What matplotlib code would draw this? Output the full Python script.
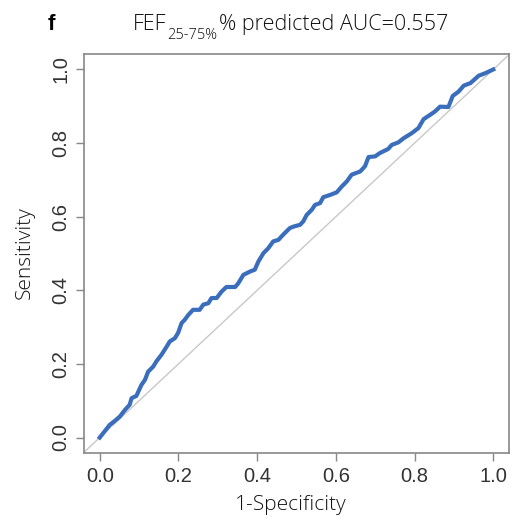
import matplotlib
matplotlib.use("Agg")
from matplotlib import pyplot as plt

# ROC curve points
fpr = [0.0, 0.025, 0.038, 0.051, 0.064, 0.076, 0.081, 0.093, 0.106, 0.115, 0.123, 0.136,
       0.144, 0.157, 0.170, 0.178, 0.191, 0.199, 0.208, 0.216, 0.225, 0.237, 0.254, 0.263,
       0.276, 0.284, 0.297, 0.310, 0.322, 0.344, 0.352, 0.365, 0.382, 0.394, 0.403, 0.416,
       0.428, 0.441, 0.454, 0.466, 0.483, 0.492, 0.509, 0.517, 0.526, 0.539, 0.547, 0.560,
       0.568, 0.585, 0.602, 0.615, 0.628, 0.640, 0.662, 0.674, 0.683, 0.700, 0.712, 0.733,
       0.742, 0.759, 0.772, 0.793, 0.810, 0.823, 0.840, 0.852, 0.865, 0.886, 0.897, 0.912,
       0.925, 0.942, 0.963, 0.980, 1.0]
tpr = [0.0, 0.034, 0.045, 0.057, 0.075, 0.089, 0.107, 0.113, 0.143, 0.157, 0.179, 0.193,
       0.207, 0.225, 0.247, 0.261, 0.270, 0.284, 0.311, 0.320, 0.333, 0.347, 0.347, 0.361,
       0.365, 0.379, 0.379, 0.397, 0.409, 0.409, 0.419, 0.442, 0.451, 0.456, 0.478, 0.501,
       0.514, 0.533, 0.537, 0.551, 0.569, 0.573, 0.578, 0.587, 0.605, 0.619, 0.632, 0.637,
       0.653, 0.659, 0.666, 0.682, 0.696, 0.714, 0.723, 0.737, 0.762, 0.764, 0.773, 0.784,
       0.795, 0.802, 0.813, 0.827, 0.841, 0.865, 0.877, 0.886, 0.899, 0.898, 0.928, 0.940,
       0.956, 0.963, 0.983, 0.990, 1.0]
ticks = [0.0, 0.2, 0.4, 0.6, 0.8, 1.0]
tick_labels = ["0.0", "0.2", "0.4", "0.6", "0.8", "1.0"]
auc = 0.557

txt_col = '#111111'

fig = plt.figure(figsize=(5.13, 5.2), dpi=100)
ax = fig.add_axes([84/513, 1-453/520, 425/513, 399/520])

ax.axline((0, 0), (1, 1), color='#c8c8c8', lw=1.0, zorder=1)
ax.plot(fpr, tpr, color='#3a6ebd', lw=3.0, solid_joinstyle='round', zorder=2)

ax.set_xlim(-0.04, 1.04)
ax.set_ylim(-0.042, 1.042)
ax.set_xticks(ticks)
ax.set_yticks(ticks)
ax.set_xticklabels(tick_labels, family='Liberation Sans', fontsize=14.5, color='#333333')
ax.set_yticklabels(tick_labels, family='Liberation Sans', fontsize=14.5, color='#333333',
                   rotation=90, va='center')
ax.tick_params(length=6, width=1, color='#888888', pad=4)
for s in ax.spines.values():
    s.set_color('#888888')
    s.set_linewidth(1.2)

fig.text(291/513, 1-505/520, '1-Specificity', family='Open Sans', fontweight='light',
         fontsize=15, ha='center', va='center', color=txt_col)
fig.text(25/513, 1-253/520, 'Sensitivity', family='Open Sans', fontweight='light',
         fontsize=15, ha='center', va='center', rotation=90, color=txt_col)

fig.text(48/513, 1-30/520, 'f', family='Liberation Sans', fontweight='bold', fontsize=16,
         ha='left', va='baseline')

# title built from pieces so the subscript can sit low like the original
r = fig.canvas.get_renderer()
x0 = 133/513
t1 = fig.text(x0, 1-30/520, 'FEF', family='Open Sans', fontweight='light', fontsize=15.5,
              ha='left', va='baseline', color=txt_col)
w1 = t1.get_window_extent(r).width / 513
t2 = fig.text(x0 + w1 + 1/513, 1-39/520, '25-75%', family='Open Sans', fontweight='light',
              fontsize=10.5, ha='left', va='baseline', color=txt_col)
w2 = t2.get_window_extent(r).width / 513
fig.text(x0 + w1 + w2 + 3/513, 1-30/520, '% predicted AUC=' + '%.3f' % auc,
         family='Open Sans', fontweight='light', fontsize=15.5, ha='left', va='baseline',
         color=txt_col)

fig.savefig('out.png', dpi=100)
